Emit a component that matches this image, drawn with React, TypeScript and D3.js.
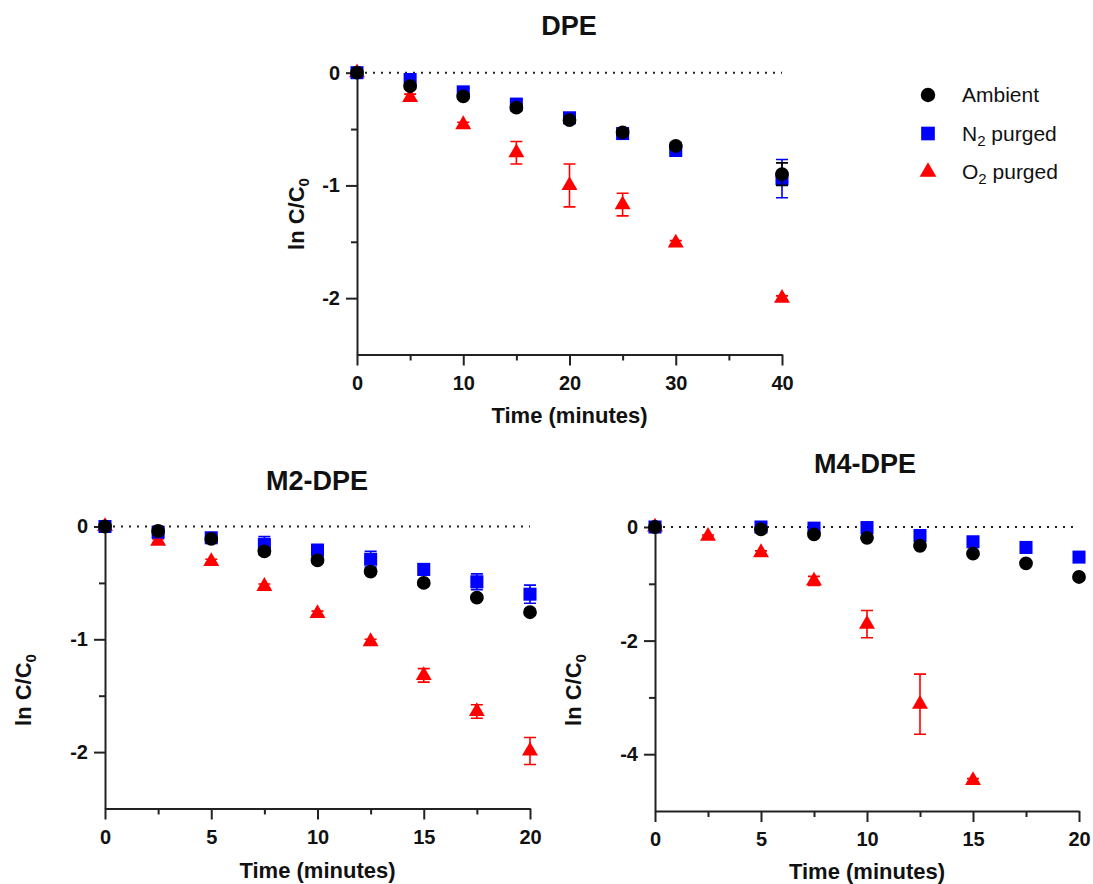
import React, { useEffect, useRef } from 'react'
import * as d3 from 'd3'

// series names and colours
const seriesNames = ['O2 purged', 'N2 purged', 'Ambient']
const seriesColors = ['#ff0000', '#0000ff', '#000000']

// DPE panel
const dpeTime = [0, 5, 10, 15, 20, 25, 30, 40]
const dpeAmbient = [0, -0.12, -0.21, -0.31, -0.42, -0.53, -0.65, -0.9]
const dpeAmbientErr = [0, 0.02, 0.02, 0.03, 0.02, 0.02, 0.03, 0.1]
const dpeN2 = [0, -0.06, -0.17, -0.28, -0.4, -0.54, -0.69, -0.94]
const dpeN2Err = [0, 0.02, 0.03, 0.05, 0.03, 0.02, 0.02, 0.17]
const dpeO2 = [0, -0.22, -0.46, -0.71, -1.0, -1.17, -1.51, -2.0]
const dpeO2Err = [0, 0.03, 0.02, 0.1, 0.19, 0.1, 0.02, 0.02]

// M2-DPE panel
const m2Time = [0, 2.5, 5, 7.5, 10, 12.5, 15, 17.5, 20]
const m2Ambient = [0, -0.04, -0.11, -0.22, -0.3, -0.4, -0.5, -0.63, -0.76]
const m2AmbientErr = [0, 0.01, 0.02, 0.03, 0.02, 0.02, 0.02, 0.02, 0.02]
const m2N2 = [0, -0.05, -0.1, -0.16, -0.21, -0.29, -0.38, -0.49, -0.6]
const m2N2Err = [0, 0.02, 0.04, 0.07, 0.05, 0.07, 0.05, 0.07, 0.08]
const m2O2 = [0, -0.13, -0.31, -0.53, -0.77, -1.02, -1.32, -1.64, -1.99]
const m2O2Err = [0, 0.02, 0.02, 0.02, 0.02, 0.02, 0.06, 0.06, 0.12]

// M4-DPE panel
const m4Time = [0, 2.5, 5, 7.5, 10, 12.5, 15, 17.5, 20]
const m4Ambient = [0, null, -0.04, -0.13, -0.19, -0.33, -0.47, -0.64, -0.88]
const m4AmbientErr = [0, 0, 0.02, 0.03, 0.03, 0.03, 0.03, 0.03, 0.03]
const m4N2 = [0, null, 0.0, -0.02, -0.01, -0.15, -0.26, -0.36, -0.53]
const m4N2Err = [0, 0, 0.02, 0.02, 0.03, 0.03, 0.03, 0.03, 0.03]
const m4O2 = [0, -0.16, -0.45, -0.95, -1.71, -3.12, -4.46, null, null]
const m4O2Err = [0, 0.02, 0.03, 0.08, 0.24, 0.53, 0.03, 0, 0]

const FONT = '"Liberation Sans", Arial, sans-serif'

const panels = [
  {
    title: 'DPE', time: dpeTime,
    values: [dpeO2, dpeN2, dpeAmbient], errs: [dpeO2Err, dpeN2Err, dpeAmbientErr],
    xMax: 40, xMajor: [0, 10, 20, 30, 40], xMinor: [5, 15, 25, 35],
    yMin: -2.5, yMajor: [0, -1, -2], yMinor: [-0.5, -1.5],
    left: 357, right: 782, top: 72.7, bottom: 354.5,
    titleX: 569, titleY: 35, xLabelY: 423, yLabelX: 304, yLabelY: 214,
  },
  {
    title: 'M2-DPE', time: m2Time,
    values: [m2O2, m2N2, m2Ambient], errs: [m2O2Err, m2N2Err, m2AmbientErr],
    xMax: 20, xMajor: [0, 5, 10, 15, 20], xMinor: [2.5, 7.5, 12.5, 17.5],
    yMin: -2.5, yMajor: [0, -1, -2], yMinor: [-0.5, -1.5],
    left: 105, right: 530, top: 526.5, bottom: 808.5,
    titleX: 317, titleY: 490, xLabelY: 878, yLabelX: 31, yLabelY: 690,
  },
  {
    title: 'M4-DPE', time: m4Time,
    values: [m4O2, m4N2, m4Ambient], errs: [m4O2Err, m4N2Err, m4AmbientErr],
    xMax: 20, xMajor: [0, 5, 10, 15, 20], xMinor: [2.5, 7.5, 12.5, 17.5],
    yMin: -5, yMajor: [0, -2, -4], yMinor: [-1, -3],
    left: 655, right: 1079, top: 527, bottom: 811,
    titleX: 865, titleY: 473, xLabelY: 879, yLabelX: 581, yLabelY: 690,
  },
]

function markerPath(i: number, k = 1) {
  // 0 triangle, 1 square, 2 circle
  if (i === 0) return d3.symbol().type(d3.symbolTriangle).size(110 * k)()
  if (i === 1) return d3.symbol().type(d3.symbolSquare).size(170 * k)()
  return d3.symbol().type(d3.symbolCircle).size(150 * k)()
}

function drawSub(text: any, main: string, sub: string, rest: string, subSize: number, shift: number) {
  text.append('tspan').text(main)
  text.append('tspan').attr('font-size', subSize).attr('dy', shift).text(sub)
  if (rest) text.append('tspan').attr('dy', -shift).text(rest)
}

export default function App() {
  const ref = useRef<SVGSVGElement>(null)

  useEffect(() => {
    const svg = d3.select(ref.current)
    svg.selectAll('*').remove()

    panels.forEach(p => {
      const x = d3.scaleLinear().domain([0, p.xMax]).range([p.left, p.right])
      const y = d3.scaleLinear().domain([p.yMin, 0]).range([p.bottom, p.top])
      const g = svg.append('g')

      // title
      g.append('text')
        .attr('x', p.titleX).attr('y', p.titleY)
        .attr('text-anchor', 'middle')
        .attr('font-family', FONT).attr('font-weight', 'bold').attr('font-size', 27)
        .attr('fill', '#111')
        .text(p.title)

      // dotted zero line
      g.append('line')
        .attr('x1', x(0)).attr('x2', x(p.xMax))
        .attr('y1', y(0)).attr('y2', y(0))
        .attr('stroke', '#222').attr('stroke-width', 2)
        .attr('stroke-dasharray', '2,6')

      // x axis
      const xAxis = g.append('g').attr('transform', 'translate(0,' + p.bottom + ')')
      xAxis.call(d3.axisBottom(x).tickValues(p.xMajor).tickSize(11).tickSizeOuter(0).tickPadding(10)
        .tickFormat(d3.format('d') as any))
      const xMinor = g.append('g').attr('transform', 'translate(0,' + p.bottom + ')')
      xMinor.call(d3.axisBottom(x).tickValues(p.xMinor).tickSize(6).tickSizeOuter(0).tickFormat(() => ''))
      xMinor.select('.domain').remove()

      // y axis
      const yAxis = g.append('g').attr('transform', 'translate(' + p.left + ',0)')
      yAxis.call(d3.axisLeft(y).tickValues(p.yMajor).tickSize(11).tickSizeOuter(0).tickPadding(6)
        .tickFormat(d3.format('d') as any))
      const yMinor = g.append('g').attr('transform', 'translate(' + p.left + ',0)')
      yMinor.call(d3.axisLeft(y).tickValues(p.yMinor).tickSize(6).tickSizeOuter(0).tickFormat(() => ''))
      yMinor.select('.domain').remove()

      g.selectAll('.domain').attr('stroke', '#222').attr('stroke-width', 2)
      g.selectAll('.tick line').attr('stroke', '#222').attr('stroke-width', 2)
      g.selectAll('.tick text')
        .attr('font-family', FONT).attr('font-weight', 'bold').attr('font-size', 20)
        .attr('fill', '#111')
      // minus sign as hyphen like the original
      yAxis.selectAll('.tick text').text((d: any) => String(d))

      // axis labels
      g.append('text')
        .attr('x', (p.left + p.right) / 2).attr('y', p.xLabelY)
        .attr('text-anchor', 'middle')
        .attr('font-family', FONT).attr('font-weight', 'bold').attr('font-size', 22)
        .attr('fill', '#111')
        .text('Time (minutes)')

      const yl = g.append('text')
        .attr('transform', 'translate(' + p.yLabelX + ',' + p.yLabelY + ') rotate(-90)')
        .attr('text-anchor', 'middle')
        .attr('font-family', FONT).attr('font-weight', 'bold').attr('font-size', 22)
        .attr('fill', '#111')
      drawSub(yl, 'ln C/C', '0', '', 15, 5)

      // series: O2 first, then N2, ambient on top
      p.values.forEach((vals, si) => {
        const color = seriesColors[si]
        const pts = p.time.map((t, i) => ({ t, v: vals[i], e: p.errs[si][i] }))
          .filter(d => d.v !== null) as { t: number, v: number, e: number }[]
        const sg = g.append('g')
        pts.filter(d => d.e > 0).forEach(d => {
          const yt = y(d.v + d.e), yb = y(d.v - d.e), xc = x(d.t)
          sg.append('path')
            .attr('d', `M${xc},${yt}V${yb}M${xc - 6},${yt}H${xc + 6}M${xc - 6},${yb}H${xc + 6}`)
            .attr('stroke', color).attr('stroke-width', 1.6).attr('fill', 'none')
        })
        sg.selectAll('path.pt').data(pts).enter().append('path')
          .attr('class', 'pt')
          .attr('transform', d => 'translate(' + x(d.t) + ',' + y(d.v) + ')')
          .attr('d', markerPath(si) as string)
          .attr('fill', color)
      })
    })

    // legend
    const legendOrder = [2, 1, 0]
    const lg = svg.append('g')
    const legendY = d3.scalePoint<number>().domain(legendOrder).range([95, 172])
    legendOrder.forEach(si => {
      const cy = legendY(si) as number
      lg.append('path')
        .attr('transform', 'translate(928,' + cy + ')')
        .attr('d', markerPath(si, 1.1) as string)
        .attr('fill', seriesColors[si])
      const t = lg.append('text')
        .attr('x', 962).attr('y', cy + 7)
        .attr('font-family', FONT).attr('font-size', 21)
        .attr('fill', '#111')
      const name = seriesNames[si]
      if (si === 2) t.text(name)
      else drawSub(t, name[0], name[1], name.slice(2), 15, 5)
    })
  }, [])

  return (
    <svg ref={ref} width={1093} height={884}
      style={{ position: 'absolute', left: 0, top: 0, background: '#fff' }} />
  )
}
